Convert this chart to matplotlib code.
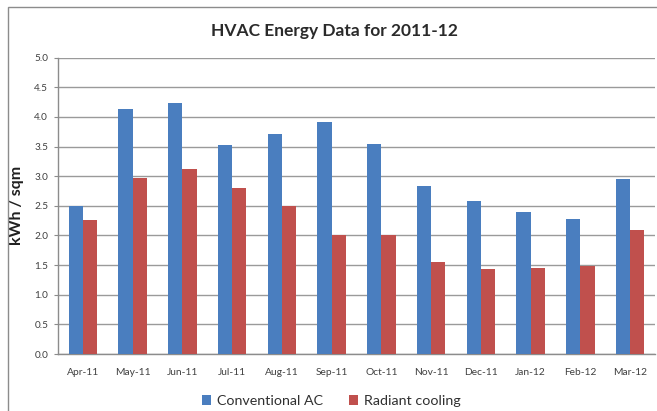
import matplotlib
matplotlib.use("Agg")
import matplotlib.pyplot as plt
import numpy as np
from matplotlib.patches import Rectangle

months = ["Apr-11", "May-11", "Jun-11", "Jul-11", "Aug-11", "Sep-11",
          "Oct-11", "Nov-11", "Dec-11", "Jan-12", "Feb-12", "Mar-12"]
conventional_ac = [2.50, 4.13, 4.24, 3.53, 3.72, 3.92, 3.54, 2.84, 2.59, 2.40, 2.28, 2.95]
radiant_cooling = [2.26, 2.97, 3.12, 2.80, 2.50, 2.01, 2.01, 1.56, 1.43, 1.45, 1.49, 2.09]
yticks = [0.0, 0.5, 1.0, 1.5, 2.0, 2.5, 3.0, 3.5, 4.0, 4.5, 5.0]

plt.rcParams['font.family'] = ['Lato', 'DejaVu Sans']

W, H = 657, 411
fig = plt.figure(figsize=(W / 100, H / 100), dpi=100)

# outer chart border (extends beyond the image at right and bottom)
fig.patches.append(Rectangle((8 / W, -0.1), 1.2, 1.1 - 7 / H,
                             transform=fig.transFigure, fill=False,
                             edgecolor="#8C8C8C", linewidth=1.0))

left, right, top, bottom = 58, 655, 57.7, 354
ax = fig.add_axes([left / W, 1 - bottom / H, (right - left) / W, (bottom - top) / H])

x = np.arange(len(months))
bw = 0.285
ax.bar(x - bw / 2, conventional_ac, bw, color="#4A7EBF", label="Conventional AC", zorder=3)
ax.bar(x + bw / 2, radiant_cooling, bw, color="#C0504D", label="Radiant cooling", zorder=3)

ax.set_xlim(-0.5, len(months) - 0.5)
ax.set_ylim(0, 5.0)
ax.set_yticks(yticks)
ax.set_yticklabels([f"{v:.1f}" for v in yticks], fontsize=7.2, color="#404040")
ax.set_xticks(x)
ax.set_xticklabels(months, fontsize=7.4, color="#404040")
ax.tick_params(axis="x", length=0, pad=10)
ax.tick_params(axis="y", length=3, color="#8C8C8C", pad=4)

ax.grid(axis="y", color="#9A9A9A", linewidth=1.0, zorder=0)
for s in ["top", "right"]:
    ax.spines[s].set_visible(False)
for s in ["left", "bottom"]:
    ax.spines[s].set_color("#8C8C8C")
    ax.spines[s].set_linewidth(1.0)

ax.set_ylabel("kWh / sqm", fontsize=11.5, fontweight="bold", color="#202020", labelpad=7)

fig.text(334 / W, 1 - 31 / H, "HVAC Energy Data for 2011-12", ha="center", va="center",
         fontsize=12.5, fontweight="bold", color="#2A2A2A")

leg = fig.legend(loc="center", bbox_to_anchor=(331 / W, 1 - 401 / H), ncol=2, frameon=False,
                 fontsize=10.3, handlelength=0.65, handleheight=0.65, handletextpad=0.4,
                 columnspacing=1.8)
for t in leg.get_texts():
    t.set_color("#303030")

fig.savefig("out.png", dpi=100)
